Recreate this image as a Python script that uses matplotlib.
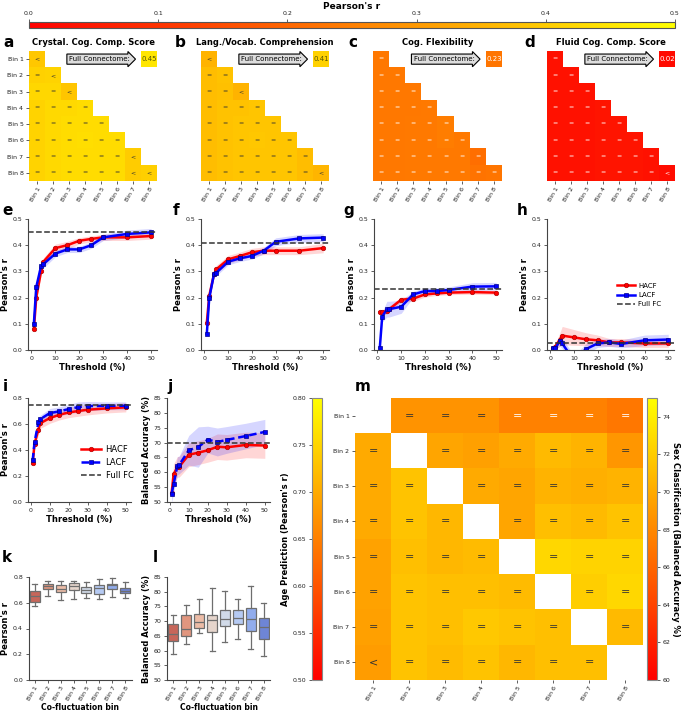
import numpy as np
import matplotlib
matplotlib.use("Agg")
import matplotlib.pyplot as plt
from matplotlib.colors import Normalize
from matplotlib.cm import ScalarMappable
import seaborn as sns

W, H = 683, 715

plt.rcParams.update({
    'font.family': ['DejaVu Sans'],
    'axes.edgecolor': '#444444',
    'axes.linewidth': 0.8,
    'xtick.color': '#444444',
    'ytick.color': '#444444',
    'xtick.labelcolor': '#222222',
    'ytick.labelcolor': '#222222',
    'xtick.labelsize': 4.5,
    'ytick.labelsize': 4.5,
    'xtick.major.size': 2,
    'ytick.major.size': 2,
    'xtick.major.width': 0.6,
    'ytick.major.width': 0.6,
    'xtick.major.pad': 2,
    'ytick.major.pad': 2,
})

bins = [f"Bin {i}" for i in range(1, 9)]
thresholds = [1, 2, 4, 5, 10, 15, 20, 25, 30, 40, 50]

# ---- panels a-d : lower-triangle bin combinations (Pearson's r)
a_vals = [[0.39], [0.41, 0.415], [0.42, 0.42, 0.385], [0.415, 0.425, 0.425, 0.43],
          [0.415, 0.425, 0.43, 0.43, 0.43], [0.415, 0.425, 0.43, 0.435, 0.43, 0.43],
          [0.415, 0.425, 0.43, 0.43, 0.43, 0.43, 0.40], [0.415, 0.425, 0.43, 0.43, 0.43, 0.43, 0.40, 0.405]]
a_syms = ["<", "=<", "==<", "====", "=====", "======", "======<", "======<<"]
b_vals = [[0.35], [0.37, 0.38], [0.37, 0.375, 0.35], [0.37, 0.38, 0.38, 0.385],
          [0.37, 0.38, 0.385, 0.385, 0.385], [0.37, 0.38, 0.385, 0.39, 0.385, 0.385],
          [0.37, 0.38, 0.385, 0.385, 0.385, 0.385, 0.37], [0.37, 0.38, 0.385, 0.385, 0.385, 0.385, 0.37, 0.355]]
b_syms = ["<", "==", "==<", "====", "=====", "======", "=======", "=======<"]
c_vals = [[0.235], [0.235, 0.235], [0.235, 0.235, 0.235], [0.235, 0.235, 0.235, 0.24],
          [0.235, 0.235, 0.24, 0.24, 0.245], [0.235, 0.235, 0.24, 0.24, 0.245, 0.24],
          [0.235, 0.235, 0.24, 0.24, 0.24, 0.24, 0.215], [0.235, 0.235, 0.24, 0.24, 0.24, 0.24, 0.225, 0.23]]
c_syms = ["=" * (i + 1) for i in range(8)]
d_vals = [[0.035], [0.035, 0.035], [0.035, 0.035, 0.035], [0.035, 0.035, 0.035, 0.04],
          [0.035, 0.035, 0.035, 0.04, 0.04], [0.035, 0.035, 0.035, 0.04, 0.04, 0.04],
          [0.035, 0.035, 0.035, 0.04, 0.04, 0.04, 0.035], [0.035, 0.035, 0.035, 0.04, 0.04, 0.04, 0.035, 0.025]]
d_syms = ["=" * (i + 1) for i in range(7)] + ["=======<"]
full_conn = [0.45, 0.41, 0.23, 0.02]
tri_titles = ["Crystal. Cog. Comp. Score", "Lang./Vocab. Comprehension",
              "Cog. Flexibility", "Fluid Cog. Comp. Score"]

# ---- panels e-j : threshold curves
e_h = [0.08, 0.20, 0.30, 0.337, 0.389, 0.40, 0.417, 0.424, 0.43, 0.43, 0.435]
e_hsd = [0.005, 0.01, 0.015, 0.015, 0.015, 0.015, 0.012, 0.012, 0.012, 0.012, 0.012]
e_l = [0.10, 0.24, 0.32, 0.328, 0.368, 0.384, 0.384, 0.40, 0.43, 0.443, 0.449]
e_lsd = [0.005, 0.01, 0.015, 0.015, 0.012, 0.012, 0.012, 0.012, 0.012, 0.015, 0.015]
f_h = [0.104, 0.206, 0.289, 0.308, 0.346, 0.359, 0.373, 0.379, 0.379, 0.379, 0.389]
f_hsd = [0.005, 0.01, 0.015, 0.015, 0.015, 0.015, 0.015, 0.015, 0.015, 0.015, 0.018]
f_l = [0.062, 0.197, 0.289, 0.295, 0.337, 0.35, 0.359, 0.379, 0.413, 0.426, 0.429]
f_lsd = [0.005, 0.01, 0.012, 0.012, 0.012, 0.012, 0.012, 0.012, 0.015, 0.015, 0.015]
g_h = [0.144, 0.144, 0.149, 0.156, 0.192, 0.196, 0.212, 0.216, 0.219, 0.221, 0.219]
g_hsd = [0.01, 0.01, 0.012, 0.012, 0.01, 0.01, 0.01, 0.008, 0.008, 0.008, 0.008]
g_l = [0.009, 0.127, 0.156, 0.156, 0.165, 0.212, 0.225, 0.225, 0.229, 0.242, 0.243]
g_lsd = [0.005, 0.02, 0.03, 0.03, 0.025, 0.012, 0.012, 0.012, 0.012, 0.015, 0.015]
h_h = [0.006, 0.013, 0.04, 0.055, 0.048, 0.041, 0.037, 0.029, 0.029, 0.025, 0.025]
h_hsd = [0.005, 0.01, 0.025, 0.035, 0.03, 0.025, 0.02, 0.015, 0.015, 0.015, 0.015]
h_l = [0.006, 0.006, 0.034, 0.025, -0.04, 0.003, 0.025, 0.029, 0.023, 0.037, 0.04]
h_lsd = [0.005, 0.005, 0.02, 0.02, 0.02, 0.02, 0.015, 0.015, 0.015, 0.02, 0.02]
i_h = [0.297, 0.45, 0.555, 0.606, 0.645, 0.671, 0.689, 0.70, 0.71, 0.72, 0.728]
i_hsd = [0.03, 0.03, 0.04, 0.04, 0.04, 0.04, 0.04, 0.04, 0.04, 0.035, 0.035]
i_l = [0.32, 0.46, 0.614, 0.637, 0.684, 0.697, 0.715, 0.73, 0.738, 0.74, 0.74]
i_lsd = [0.02, 0.02, 0.03, 0.03, 0.035, 0.035, 0.035, 0.04, 0.035, 0.03, 0.03]
j_h = [53.1, 59.3, 61.8, 61.9, 65.9, 66.6, 67.4, 68.6, 68.4, 69.2, 69.0]
j_hsd = [2, 3.5, 3.5, 3.5, 4, 4, 4, 4.3, 4.3, 4.3, 4.3]
j_l = [52.8, 55.9, 62.2, 62.5, 67.4, 68.5, 71.0, 70.2, 70.9, 72.2, 73.6]
j_lsd = [3, 3, 3, 3, 5, 6.8, 4.5, 4.7, 4.5, 4.3, 4.2]
full_fc = {'e': 0.452, 'f': 0.41, 'g': 0.232, 'h': 0.025, 'i': 0.743, 'j': 70.0}

# ---- panels k, l : boxplots per co-fluctuation bin (q1, med, q3, lo, hi)
k_med = [0.653, 0.733, 0.71, 0.731, 0.70, 0.715, 0.736, 0.694]
k_q1 = [0.609, 0.707, 0.684, 0.697, 0.676, 0.671, 0.705, 0.676]
k_q3 = [0.694, 0.749, 0.736, 0.751, 0.723, 0.736, 0.749, 0.715]
k_lo = [0.575, 0.655, 0.622, 0.63, 0.637, 0.627, 0.645, 0.635]
k_hi = [0.744, 0.769, 0.767, 0.772, 0.759, 0.785, 0.79, 0.759]
l_med = [65.5, 67.2, 69.6, 70.3, 70.7, 71.2, 70.6, 68.0]
l_q1 = [63.2, 64.9, 67.8, 66.2, 68.2, 69.1, 66.6, 63.8]
l_q3 = [68.9, 72.0, 72.3, 72.2, 73.9, 73.9, 74.6, 71.0]
l_lo = [58.7, 62.2, 65.9, 60.0, 62.8, 64.0, 60.4, 58.3]
l_hi = [72.0, 75.4, 77.6, 81.1, 80.4, 77.6, 81.8, 76.0]

# ---- panel m : pairwise bins, upper = sex classification, lower = age prediction
sex_rows = [[68.7, 68.7, 68.7, 67.6, 67.6, 67.6, 67.0],
            [69.7, 69.4, 70.0, 70.9, 70.6, 68.8],
            [70.0, 69.7, 70.6, 70.3, 70.6],
            [69.7, 71.2, 70.9, 71.5],
            [72.6, 72.4, 72.4],
            [72.1, 72.6],
            [70.9]]
age_rows = [[0.70],
            [0.70, 0.73],
            [0.70, 0.73, 0.715],
            [0.69, 0.725, 0.715, 0.72],
            [0.69, 0.73, 0.725, 0.725, 0.72],
            [0.688, 0.73, 0.725, 0.735, 0.73, 0.725],
            [0.683, 0.73, 0.72, 0.73, 0.715, 0.725, 0.725]]
age_syms = ["=", "==", "===", "====", "=====", "======", "<======"]


def px(x0, y0, x1, y1):
    return [x0 / W, 1 - y1 / H, (x1 - x0) / W, (y1 - y0) / H]


fig = plt.figure(figsize=(W / 100, H / 100), dpi=100)

# top colour bar
cax = fig.add_axes(px(29, 22, 675, 28))
cb = fig.colorbar(ScalarMappable(Normalize(0, 0.5), 'autumn'), cax=cax, orientation='horizontal')
cax.xaxis.set_ticks_position('top')
cax.xaxis.set_label_position('top')
cb.set_ticks([0, 0.1, 0.2, 0.3, 0.4, 0.5])
cb.set_label("Pearson's r", fontsize=6.5, fontweight='bold', labelpad=2)
cb.outline.set_edgecolor('#555555')
cb.outline.set_linewidth(0.8)


def tri_panel(ax, vals, syms, full, title, show_y):
    M = np.full((8, 8), np.nan)
    for i, row in enumerate(vals):
        M[i, :len(row)] = row
    M[0, 7] = full
    ax.imshow(np.ma.masked_invalid(M), cmap='autumn', vmin=0, vmax=0.5, aspect='auto')
    tc = '#333333' if full > 0.3 else 'white'
    for i, s in enumerate(syms):
        for j, ch in enumerate(s):
            ax.text(j, i, ch, ha='center', va='center', fontsize=4.5, color=tc)
    ax.text(7, 0, f"{full:.2f}", ha='center', va='center', fontsize=5,
            color='#555500' if full > 0.3 else 'white')
    ax.text(3.9, 0, "Full Connectome:", ha='center', va='center', fontsize=5,
            bbox=dict(boxstyle='rarrow,pad=0.3', fc='#dddddd', ec='black', lw=0.8))
    for sp in ax.spines.values():
        sp.set_visible(False)
    ax.set_xticks(range(8))
    ax.set_xticklabels(bins, rotation=60, ha='right', rotation_mode='anchor')
    if show_y:
        ax.set_yticks(range(8))
        ax.set_yticklabels(bins)
    else:
        ax.set_yticks([])
    ax.set_title(title, fontsize=6, fontweight='bold', pad=4)


tri_x = [(29, 157), (201, 329), (373, 502), (547, 675)]
tri_data = [(a_vals, a_syms), (b_vals, b_syms), (c_vals, c_syms), (d_vals, d_syms)]
for n, ((x0, x1), (v, s)) in enumerate(zip(tri_x, tri_data)):
    ax = fig.add_axes(px(x0, 51, x1, 181))
    tri_panel(ax, v, s, full_conn[n], tri_titles[n], n == 0)


def line_panel(ax, hv, hsd, lv, lsd, full, ylim, yticks, ylabel, dashed=False):
    t = np.array(thresholds)
    hv, hsd, lv, lsd = map(np.array, (hv, hsd, lv, lsd))
    ax.fill_between(t, hv - hsd, hv + hsd, color='red', alpha=0.16, lw=0)
    ax.fill_between(t, lv - lsd, lv + lsd, color='blue', alpha=0.16, lw=0)
    ax.plot(t, hv, '-o', color='red', lw=1.8, ms=3.2, mec='#b00000', mew=0.5, label='HACF')
    ax.plot(t, lv, ls=(0, (3, 1.5)) if dashed else '-', marker='s', color='blue', lw=1.8,
            ms=2.8, mec='#00008b', mew=0.5, label='LACF')
    ax.axhline(full, color='#333333', ls='--', lw=1.1, label='Full FC')
    ax.set_ylim(*ylim)
    ax.set_yticks(yticks)
    ax.set_xticks([0, 10, 20, 30, 40, 50])
    ax.spines['top'].set_visible(False)
    ax.spines['right'].set_visible(False)
    ax.set_xlabel('Threshold (%)', fontsize=6, fontweight='bold', labelpad=1.5)
    ax.set_ylabel(ylabel, fontsize=6, fontweight='bold', labelpad=2)


r_ticks = [0.0, 0.1, 0.2, 0.3, 0.4, 0.5]
line_x = {'e': (28, 157), 'f': (201, 329), 'g': (374, 502), 'h': (547, 674)}
line_data = {'e': (e_h, e_hsd, e_l, e_lsd), 'f': (f_h, f_hsd, f_l, f_lsd),
             'g': (g_h, g_hsd, g_l, g_lsd), 'h': (h_h, h_hsd, h_l, h_lsd)}
for key in 'efgh':
    x0, x1 = line_x[key]
    ax = fig.add_axes(px(x0, 219, x1, 350))
    line_panel(ax, *line_data[key], full_fc[key], (0, 0.5), r_ticks, "Pearson's r")
    if key == 'h':
        ax.legend(loc='center left', bbox_to_anchor=(0.5, 0.42), frameon=False, fontsize=5,
                  handlelength=2.6, handletextpad=0.5, labelspacing=0.45)

ax = fig.add_axes(px(28, 398, 130.5, 502))
line_panel(ax, i_h, i_hsd, i_l, i_lsd, full_fc['i'], (0, 0.8), [0, 0.2, 0.4, 0.6, 0.8],
           "Pearson's r", dashed=True)
ax.legend(loc='center left', bbox_to_anchor=(0.44, 0.38), frameon=False, fontsize=6,
          handlelength=2.5, handletextpad=0.5, labelspacing=0.45)

ax = fig.add_axes(px(167, 398, 269.5, 502))
line_panel(ax, j_h, j_hsd, j_l, j_lsd, full_fc['j'], (50, 85), [50, 55, 60, 65, 70, 75, 80, 85],
           "Balanced Accuracy (%)", dashed=True)

# boxplots
pal = sns.color_palette("coolwarm_r", 8, desat=0.75)


def box_panel(ax, med, q1, q3, lo, hi, ylim, yticks, ylabel):
    stats = [dict(med=med[n], q1=q1[n], q3=q3[n], whislo=lo[n], whishi=hi[n], fliers=[])
             for n in range(8)]
    gray = '#6e6e6e'
    bp = ax.bxp(stats, positions=range(8), widths=0.78, patch_artist=True, showfliers=False,
                boxprops=dict(edgecolor=gray, lw=0.9), whiskerprops=dict(color=gray, lw=0.9),
                capprops=dict(color=gray, lw=0.9), medianprops=dict(color=gray, lw=0.9))
    for patch, c in zip(bp['boxes'], pal):
        patch.set_facecolor(c)
    ax.set_xlim(-0.5, 7.5)
    ax.set_ylim(*ylim)
    ax.set_yticks(yticks)
    ax.set_xticks(range(8))
    ax.set_xticklabels(bins, rotation=60, ha='right', rotation_mode='anchor')
    ax.spines['top'].set_visible(False)
    ax.spines['right'].set_visible(False)
    ax.set_xlabel('Co-fluctuation bin', fontsize=5.5, fontweight='bold', labelpad=1)
    ax.set_ylabel(ylabel, fontsize=6, fontweight='bold', labelpad=2)


ax = fig.add_axes(px(28.5, 577, 131.5, 680))
box_panel(ax, k_med, k_q1, k_q3, k_lo, k_hi, (0, 0.8), [0, 0.2, 0.4, 0.6, 0.8], "Pearson's r")
ax = fig.add_axes(px(167, 577, 270, 680))
box_panel(ax, l_med, l_q1, l_q3, l_lo, l_hi, (50, 85), [50, 55, 60, 65, 70, 75, 80, 85],
          "Balanced Accuracy (%)")

# panel m
S = np.full((8, 8), np.nan)
A = np.full((8, 8), np.nan)
for i, row in enumerate(sex_rows):
    S[i, i + 1:] = row
for i, row in enumerate(age_rows):
    A[i + 1, :len(row)] = row

axm = fig.add_axes(px(355, 398, 643, 680))
axm.imshow(np.ma.masked_invalid(S), cmap='autumn', vmin=60, vmax=75, aspect='auto')
axm.imshow(np.ma.masked_invalid(A), cmap='autumn', vmin=0.5, vmax=0.8, aspect='auto')
for i, row in enumerate(sex_rows):
    for k, v in enumerate(row):
        axm.text(i + 1 + k, i, "=", ha='center', va='center', fontsize=8,
                 color='white' if v < 68 else '#333333')
for i, s in enumerate(age_syms):
    for j, ch in enumerate(s):
        axm.text(j, i + 1, ch, ha='center', va='center', fontsize=8, color='#333333')
for sp in axm.spines.values():
    sp.set_visible(False)
axm.set_xticks(range(8))
axm.set_xticklabels(bins, rotation=60, ha='right', rotation_mode='anchor')
axm.set_yticks(range(8))
axm.set_yticklabels(bins)

cr = fig.add_axes(px(647, 398, 657, 680))
cb = fig.colorbar(ScalarMappable(Normalize(60, 75), 'autumn'), cax=cr)
cb.set_ticks([60, 62, 64, 66, 68, 70, 72, 74])
cb.set_label("Sex Classification (Balanced Accuracy %)", fontsize=6, fontweight='bold',
             rotation=270, labelpad=7)
cb.outline.set_edgecolor('#888888')

cl = fig.add_axes(px(312, 398, 322, 680))
cb = fig.colorbar(ScalarMappable(Normalize(0.5, 0.8), 'autumn'), cax=cl)
cl.yaxis.set_ticks_position('left')
cl.yaxis.set_label_position('left')
cb.set_ticks([0.5, 0.55, 0.6, 0.65, 0.7, 0.75, 0.8])
cb.set_ticklabels(["0.50", "0.55", "0.60", "0.65", "0.70", "0.75", "0.80"])
cb.set_label("Age Prediction (Pearson's r)", fontsize=6, fontweight='bold', labelpad=2)
cb.outline.set_edgecolor('#888888')

letters = [('a', 3, 47), ('b', 175, 47), ('c', 348, 47), ('d', 524, 47),
           ('e', 2, 215), ('f', 173, 215), ('g', 343, 215), ('h', 517, 215),
           ('i', 3, 391), ('j', 167, 391), ('k', 2, 562), ('l', 153, 562), ('m', 355, 391)]
for s, x, y in letters:
    fig.text(x / W, 1 - y / H, s, fontsize=11, fontweight='bold', va='baseline')

fig.savefig('out.png', dpi=100)
